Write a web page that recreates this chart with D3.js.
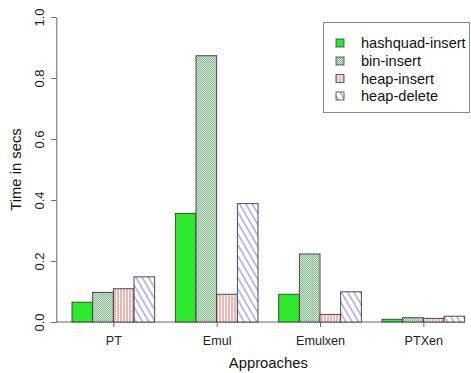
<!DOCTYPE html>
<html>
<head>
<meta charset="utf-8">
<script src="https://cdn.jsdelivr.net/npm/d3@7/dist/d3.min.js"></script>
<style>
  html, body { margin: 0; padding: 0; background: #fff; }
  svg { display: block; font-family: "Liberation Sans", Arial, sans-serif; }
</style>
</head>
<body>
<svg id="chart" width="471" height="373"></svg>
<script>
// Timing results per approach, one array per operation
const categories = ["PT", "Emul", "Emulxen", "PTXen"];
const seriesNames = ["hashquad-insert", "bin-insert", "heap-insert", "heap-delete"];
const hashquadInsert = [0.065, 0.356, 0.091, 0.009];
const binInsert      = [0.097, 0.873, 0.223, 0.014];
const heapInsert     = [0.109, 0.091, 0.025, 0.012];
const heapDelete     = [0.148, 0.388, 0.099, 0.019];
const yTicks = [0, 0.2, 0.4, 0.6, 0.8, 1.0];

const series = [hashquadInsert, binInsert, heapInsert, heapDelete];

const svg = d3.select("#chart");
const defs = svg.append("defs");

// fill patterns for the four operations
defs.append("pattern").attr("id", "p0")
  .attr("patternUnits", "userSpaceOnUse").attr("width", 4).attr("height", 4)
  .append("rect").attr("width", 4).attr("height", 4).attr("fill", "#2ee82e");

// fine diagonal checker for bin-insert
const p1 = defs.append("pattern").attr("id", "p1")
  .attr("patternUnits", "userSpaceOnUse").attr("width", 2).attr("height", 2);
p1.append("rect").attr("width", 2).attr("height", 2).attr("fill", "#d4e8d6");
p1.append("rect").attr("x", 0).attr("y", 0).attr("width", 1).attr("height", 1).attr("fill", "#7fae88");
p1.append("rect").attr("x", 1).attr("y", 1).attr("width", 1).attr("height", 1).attr("fill", "#93bb9b");

const p2 = defs.append("pattern").attr("id", "p2")
  .attr("patternUnits", "userSpaceOnUse").attr("width", 3).attr("height", 3);
p2.append("rect").attr("width", 3).attr("height", 3).attr("fill", "#fff");
p2.append("line").attr("x1", 1).attr("y1", 0).attr("x2", 1).attr("y2", 3)
  .attr("stroke", "#e06a6a").attr("stroke-width", 1);

const p3 = defs.append("pattern").attr("id", "p3")
  .attr("patternUnits", "userSpaceOnUse").attr("width", 5.5).attr("height", 5.5)
  .attr("patternTransform", "rotate(-30)");
p3.append("rect").attr("width", 5.5).attr("height", 5.5).attr("fill", "#fff");
p3.append("line").attr("x1", 1).attr("y1", 0).attr("x2", 1).attr("y2", 5.5)
  .attr("stroke", "#6b6be0").attr("stroke-width", 0.9);

const fills = ["url(#p0)", "url(#p1)", "url(#p2)", "url(#p3)"];

// bar units: each group has one gap unit followed by four bars
const x = d3.scaleLinear().domain([0.24, 20.76]).range([56.3, 480.4]);
const y = d3.scaleLinear().domain([0, 1]).range([322, 17]);

const bars = [];
categories.forEach((c, g) => {
  series.forEach((s, i) => {
    bars.push({ g, i, v: s[g], u: 1 + g * 5 + i });
  });
});

// baseline
svg.append("line")
  .attr("x1", x.range()[0]).attr("x2", x(20))
  .attr("y1", y(0)).attr("y2", y(0))
  .attr("stroke", "#666").attr("stroke-width", 1);

svg.append("g").selectAll("rect").data(bars).join("rect")
  .attr("x", d => x(d.u))
  .attr("y", d => y(d.v))
  .attr("width", d => x(d.u + 1) - x(d.u))
  .attr("height", d => y(0) - y(d.v))
  .attr("fill", d => fills[d.i])
  .attr("stroke", "#3a3a3a")
  .attr("stroke-width", 0.9);

// y axis
const yAxis = svg.append("g").attr("transform", `translate(${x.range()[0]},0)`)
  .call(d3.axisLeft(y).tickValues(yTicks).tickFormat(d3.format(".1f")).tickSize(5).tickSizeOuter(0));
yAxis.select(".domain").attr("stroke", "#666");
yAxis.selectAll(".tick line").attr("stroke", "#666");
yAxis.selectAll(".tick text")
  .attr("font-size", 13).attr("fill", "#222")
  .attr("x", 0).attr("dy", null)
  .attr("text-anchor", "middle")
  .attr("transform", "translate(-17,0) rotate(-90)")
  .attr("dominant-baseline", "central");

// x axis
const centers = categories.map((c, g) => 3 + g * 5);
const xAxis = svg.append("g").attr("transform", `translate(0,${y(0)})`)
  .call(d3.axisBottom(x).tickValues(centers).tickFormat((d, k) => categories[k]).tickSize(5).tickSizeOuter(0));
xAxis.select(".domain").remove();
xAxis.selectAll(".tick line").attr("stroke", "#666");
xAxis.selectAll(".tick text")
  .attr("font-size", 12.6).attr("fill", "#222")
  .attr("y", 19).attr("dy", null)
  .attr("dominant-baseline", "central");

// axis titles
svg.append("text")
  .attr("x", (x.range()[0] + x.range()[1]) / 2).attr("y", 363)
  .attr("text-anchor", "middle").attr("dominant-baseline", "central")
  .attr("font-size", 14.8).attr("fill", "#111")
  .text("Approaches");

svg.append("text")
  .attr("transform", `translate(16,${(y(0) + y(1)) / 2}) rotate(-90)`)
  .attr("text-anchor", "middle").attr("dominant-baseline", "central")
  .attr("font-size", 14.8).attr("fill", "#111")
  .text("Time in secs");

// legend
const legend = svg.append("g");
legend.append("rect")
  .attr("x", 323.5).attr("y", 22.5).attr("width", 146).attr("height", 90)
  .attr("fill", "#fff").attr("stroke", "#888").attr("stroke-width", 1);
const rowY = [43, 61, 78.5, 96];
seriesNames.forEach((name, i) => {
  legend.append("rect")
    .attr("x", 336).attr("y", rowY[i] - 4).attr("width", 8).attr("height", 8)
    .attr("fill", fills[i]).attr("stroke", "#3a3a3a").attr("stroke-width", 0.8);
  legend.append("text")
    .attr("x", 361).attr("y", rowY[i])
    .attr("dominant-baseline", "central")
    .attr("font-size", 14.6).attr("fill", "#111")
    .text(name);
});
</script>
</body>
</html>
